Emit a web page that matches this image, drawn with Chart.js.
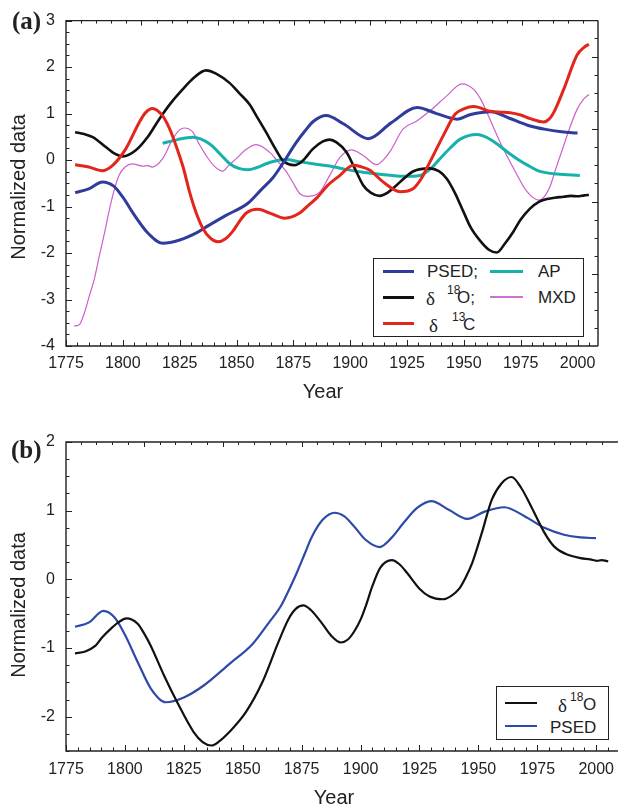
<!DOCTYPE html>
<html>
<head>
<meta charset="utf-8">
<script src="https://cdn.jsdelivr.net/npm/chart.js@4.4.1/dist/chart.umd.min.js"></script>
<style>
html,body{margin:0;padding:0;background:#fff;overflow:hidden;}
body{width:623px;height:809px;position:relative;font-family:"Liberation Sans",Arial,sans-serif;color:#222;}
canvas{position:absolute;left:0;}
#chartA{top:0;}
#chartB{top:400px;}
.panel{position:absolute;font-family:"Liberation Serif","Times New Roman",serif;font-weight:bold;font-size:25px;line-height:1;}
.ytitle{position:absolute;font-size:20px;line-height:1;white-space:nowrap;transform:translate(-50%,-50%) rotate(-90deg);}
.xtitle{position:absolute;font-size:20px;line-height:1;white-space:nowrap;transform:translate(-50%,-50%);}
.legend{position:absolute;box-sizing:border-box;border:1px solid #222;background:#fff;font-size:17px;}
.legend .ln{position:absolute;height:0;}
.legend .tx{position:absolute;line-height:1;white-space:nowrap;transform:translateY(-50%);}
.legend .sup{position:absolute;line-height:1;font-size:12px;transform:translateY(-50%);}
.delta{font-family:"Liberation Serif","DejaVu Serif",serif;font-size:19px;}
</style>
</head>
<body>
<canvas id="chartA" width="623" height="400"></canvas>
<canvas id="chartB" width="623" height="409"></canvas>

<div class="panel" style="left:12px;top:8px;">(a)</div>
<div class="panel" style="left:11px;top:437px;">(b)</div>
<div class="ytitle" style="left:18px;top:187px;">Normalized data</div>
<div class="ytitle" style="left:18px;top:605px;">Normalized data</div>
<div class="xtitle" style="left:323px;top:391px;">Year</div>
<div class="xtitle" style="left:334px;top:797px;">Year</div>

<div class="legend" style="left:373px;top:258px;width:211px;height:79px;">
  <div class="ln" style="left:9px;width:31px;top:11px;border-top:3px solid #2f3c9c;"></div>
  <span class="tx" style="left:53px;top:12px;">PSED;</span>
  <div class="ln" style="left:116px;width:33px;top:11px;border-top:3px solid #17b1ab;"></div>
  <span class="tx" style="left:164px;top:12px;">AP</span>

  <div class="ln" style="left:9px;width:31px;top:37px;border-top:3px solid #111;"></div>
  <span class="tx delta" style="left:52px;top:39px;">δ</span>
  <span class="sup" style="left:73px;top:31px;">18</span>
  <span class="tx" style="left:83px;top:38px;">O;</span>
  <div class="ln" style="left:116px;width:33px;top:37px;border-top:2px solid #d070d0;"></div>
  <span class="tx" style="left:164px;top:38px;">MXD</span>

  <div class="ln" style="left:9px;width:31px;top:63px;border-top:3px solid #e2261c;"></div>
  <span class="tx delta" style="left:55px;top:66px;">δ</span>
  <span class="sup" style="left:78px;top:58px;">13</span>
  <span class="tx" style="left:89px;top:65px;">C</span>
</div>

<div class="legend" style="left:496px;top:686px;width:113px;height:54px;">
  <div class="ln" style="left:8px;width:32px;top:15px;border-top:2px solid #111;"></div>
  <span class="tx delta" style="left:61px;top:18px;">δ</span>
  <span class="sup" style="left:73px;top:10px;">18</span>
  <span class="tx" style="left:86px;top:17px;">O</span>
  <div class="ln" style="left:8px;width:32px;top:38px;border-top:2px solid #2e4aa8;"></div>
  <span class="tx" style="left:53px;top:40px;">PSED</span>
</div>

<script>
// ---- panel (a) ----
const psedYearsA = [1779, 1785, 1791, 1796, 1800, 1805, 1811, 1817.5, 1825, 1833, 1838, 1845, 1855, 1861, 1866, 1870, 1876, 1880, 1884, 1889.5, 1897, 1908, 1918, 1929.5, 1938, 1947, 1953, 1962, 1970, 1978, 1986, 1993, 2000];
const psedValsA  = [-0.70, -0.62, -0.47, -0.56, -0.80, -1.18, -1.57, -1.79, -1.72, -1.55, -1.40, -1.20, -0.93, -0.63, -0.38, -0.10, 0.36, 0.62, 0.84, 0.96, 0.78, 0.46, 0.80, 1.13, 1.00, 0.88, 0.98, 1.04, 0.90, 0.75, 0.66, 0.61, 0.58];

const o18YearsA = [1779, 1783, 1787, 1792.5, 1796, 1800, 1805.7, 1811, 1816, 1821, 1826.3, 1831, 1836.6, 1841, 1846.9, 1851, 1855.7, 1859, 1863, 1867, 1870.4, 1875.5, 1879, 1883.6, 1888, 1891, 1894, 1898.4, 1902, 1905.7, 1909, 1913, 1916.5, 1920.4, 1924, 1927.8, 1935, 1939, 1942.5, 1946, 1949.8, 1953, 1957.2, 1961, 1964.5, 1968, 1971.9, 1975, 1979.2, 1983, 1986.6, 1990, 1993.9, 1997, 2000, 2003, 2005];
const o18ValsA  = [0.60, 0.56, 0.49, 0.28, 0.15, 0.08, 0.21, 0.50, 0.88, 1.22, 1.52, 1.76, 1.93, 1.86, 1.66, 1.45, 1.20, 0.93, 0.60, 0.25, -0.01, -0.11, -0.02, 0.24, 0.40, 0.44, 0.38, 0.17, -0.18, -0.54, -0.70, -0.77, -0.70, -0.54, -0.38, -0.24, -0.18, -0.24, -0.40, -0.70, -1.11, -1.45, -1.74, -1.93, -1.99, -1.80, -1.53, -1.28, -1.04, -0.90, -0.84, -0.81, -0.79, -0.77, -0.78, -0.76, -0.75];

const c13YearsA = [1779, 1785, 1790.9, 1795.4, 1801.3, 1807.2, 1810, 1813, 1817.5, 1820.5, 1823.4, 1826.5, 1829.3, 1832, 1835.1, 1838.5, 1841.8, 1845, 1848.4, 1851, 1854.3, 1859.4, 1864.6, 1871.2, 1877.8, 1881, 1885.2, 1890, 1895.5, 1901.3, 1904.5, 1908.7, 1914.5, 1921.9, 1927.8, 1931.5, 1935.1, 1941, 1946.2, 1950, 1954.3, 1961.6, 1966, 1970.4, 1975, 1979.2, 1985.1, 1987.5, 1989.5, 1993.9, 1999.8, 2003, 2005];
const c13ValsA  = [-0.10, -0.15, -0.23, -0.12, 0.24, 0.81, 1.02, 1.11, 0.95, 0.68, 0.31, -0.15, -0.68, -1.10, -1.46, -1.68, -1.76, -1.70, -1.53, -1.34, -1.14, -1.06, -1.14, -1.25, -1.14, -1.00, -0.82, -0.55, -0.33, -0.11, -0.14, -0.22, -0.47, -0.68, -0.61, -0.38, -0.04, 0.53, 0.99, 1.10, 1.15, 1.05, 1.03, 1.02, 0.97, 0.89, 0.82, 0.88, 1.02, 1.52, 2.26, 2.43, 2.49];

const apYearsA = [1817.5, 1824, 1830.8, 1838.1, 1843, 1847, 1851, 1855, 1859, 1863, 1867, 1871.9, 1877, 1883.6, 1891, 1898, 1905.7, 1914, 1923.3, 1930.7, 1935, 1939.5, 1944, 1948.4, 1955.8, 1960, 1964.5, 1969, 1973.3, 1978, 1982.2, 1986, 1991, 2001];
const apValsA  = [0.36, 0.44, 0.49, 0.35, 0.12, -0.08, -0.18, -0.21, -0.16, -0.08, -0.02, 0.01, -0.03, -0.08, -0.13, -0.20, -0.26, -0.31, -0.35, -0.33, -0.20, 0.03, 0.26, 0.45, 0.55, 0.49, 0.35, 0.18, 0.03, -0.11, -0.22, -0.27, -0.30, -0.33];

const mxdYearsA = [1778.5, 1780.7, 1783, 1785.1, 1787.5, 1789.5, 1791.8, 1793.9, 1796, 1798.3, 1801, 1804.2, 1808.6, 1811, 1813, 1817.5, 1821.9, 1825, 1827, 1830.8, 1833.5, 1836.6, 1840, 1844, 1846.5, 1849.9, 1854, 1858.7, 1864.5, 1868, 1871.9, 1875, 1877.8, 1880.7, 1883.5, 1886.6, 1891, 1895.4, 1900.6, 1905.7, 1911.6, 1914.5, 1917.5, 1923.3, 1929.3, 1935.1, 1942.5, 1949.1, 1954.3, 1957.5, 1960.2, 1966, 1971.9, 1977.8, 1982.9, 1985.5, 1988.1, 1990.5, 1993.9, 1997, 1999.8, 2002.5, 2005];
const mxdValsA  = [-3.57, -3.55, -3.30, -2.95, -2.55, -2.10, -1.60, -1.11, -0.68, -0.33, -0.15, -0.08, -0.13, -0.12, -0.15, 0.03, 0.45, 0.65, 0.69, 0.60, 0.35, 0.10, -0.12, -0.24, -0.12, 0.03, 0.22, 0.33, 0.17, -0.02, -0.25, -0.50, -0.72, -0.78, -0.77, -0.69, -0.33, 0.05, 0.22, 0.10, -0.10, 0.00, 0.18, 0.67, 0.84, 1.06, 1.38, 1.64, 1.52, 1.30, 1.02, 0.38, -0.18, -0.68, -0.86, -0.78, -0.54, -0.18, 0.31, 0.75, 1.09, 1.30, 1.41];

// ---- panel (b) ----
const o18YearsB = [1778.8, 1783.2, 1787.4, 1790.2, 1794.3, 1797.5, 1800.6, 1805.5, 1808, 1811, 1816.6, 1822.2, 1829.1, 1833, 1836.8, 1840, 1844.4, 1851.4, 1858.3, 1865.3, 1869.4, 1872.5, 1875.7, 1879, 1883.4, 1887.5, 1891.7, 1894.5, 1897.3, 1900.1, 1902.2, 1905, 1908.4, 1913.3, 1916.5, 1919.6, 1925.1, 1929.3, 1934.9, 1938.5, 1941.8, 1944.5, 1947.4, 1951.5, 1955.7, 1959.9, 1964.1, 1968.2, 1972.4, 1978, 1982.1, 1987.7, 1993.3, 1997.5, 2000.3, 2002.3, 2005.1];
const o18ValsB  = [-1.08, -1.05, -0.97, -0.85, -0.71, -0.62, -0.57, -0.65, -0.78, -0.97, -1.40, -1.79, -2.22, -2.37, -2.42, -2.36, -2.22, -1.93, -1.50, -0.90, -0.58, -0.43, -0.38, -0.45, -0.63, -0.82, -0.92, -0.88, -0.76, -0.58, -0.39, -0.10, 0.17, 0.28, 0.22, 0.10, -0.14, -0.25, -0.29, -0.24, -0.14, 0.02, 0.24, 0.68, 1.16, 1.40, 1.49, 1.33, 1.06, 0.68, 0.48, 0.36, 0.31, 0.29, 0.27, 0.28, 0.26];

const psedYearsB = [1778.8, 1784.6, 1790.9, 1795.7, 1799.9, 1805.5, 1811, 1817.3, 1825, 1833.3, 1844.4, 1854.2, 1861.1, 1866, 1869.4, 1873, 1876.4, 1879.2, 1884, 1889, 1893, 1897.3, 1902, 1908.1, 1913, 1918.2, 1924, 1930, 1937.6, 1945.3, 1952.9, 1961, 1969.6, 1978, 1986.3, 1993.3, 1999.9];
const psedValsB  = [-0.69, -0.63, -0.46, -0.56, -0.80, -1.21, -1.59, -1.79, -1.72, -1.55, -1.23, -0.94, -0.63, -0.40, -0.17, 0.10, 0.38, 0.61, 0.87, 0.97, 0.92, 0.77, 0.58, 0.47, 0.60, 0.82, 1.04, 1.14, 1.01, 0.88, 0.99, 1.05, 0.92, 0.75, 0.65, 0.61, 0.60];

const xTickStep = 25;
const yTickStep = 1;

function pts(xs, ys){ return xs.map((x, i) => ({ x, y: ys[i] })); }

// frame + inward ticks, drawn through the chart's own scales
const frameTicks = {
  id: 'frameTicks',
  afterDraw(chart, args, o){
    const { ctx, chartArea: a, scales: { x, y } } = chart;
    ctx.save();
    ctx.strokeStyle = '#222';
    ctx.lineWidth = 1.4;
    ctx.beginPath();
    ctx.moveTo(a.right + (o.right ? 0 : 5), a.top); ctx.lineTo(a.left, a.top);
    ctx.lineTo(a.left, a.bottom); ctx.lineTo(a.right + (o.right ? 0 : 5), a.bottom);
    if (o.right) { ctx.moveTo(a.right, a.top); ctx.lineTo(a.right, a.bottom); }
    ctx.stroke();

    ctx.lineWidth = 1;
    ctx.beginPath();
    const seg = (x1, y1, x2, y2) => { ctx.moveTo(x1, y1); ctx.lineTo(x2, y2); };
    // left
    let n = Math.round((y.max - y.min) / o.yMinor);
    for (let i = 0; i <= n; i++) {
      const v = y.min + i * o.yMinor, py = Math.round(y.getPixelForValue(v)) + 0.5;
      const len = Math.abs(v - Math.round(v)) < 1e-6 ? 6 : 3.5;
      seg(a.left, py, a.left + len, py);
    }
    // bottom
    n = Math.floor((x.max - x.min) / 5);
    for (let i = 0; i <= n; i++) {
      const v = x.min + i * 5, px = Math.round(x.getPixelForValue(v)) + 0.5;
      const len = (v - x.min) % 25 === 0 ? 6 : 3.5;
      seg(px, a.bottom, px, a.bottom - len);
    }
    // top
    for (let k = 0; ; k++) {
      const v = o.topStart + k * o.topStep;
      if (v > x.max) break;
      if (v <= x.min) continue;
      const px = Math.round(x.getPixelForValue(v)) + 0.5;
      seg(px, a.top, px, a.top + (k % 5 === 0 ? 5 : 3));
    }
    // right
    if (o.right) {
      for (let k = 0; ; k++) {
        const v = o.rightStart - k * o.rightStep;
        if (v < y.min) break;
        const py = Math.round(y.getPixelForValue(v)) + 0.5;
        seg(a.right, py, a.right - (k % 4 === 1 ? 6 : 3.5), py);
      }
    }
    ctx.stroke();
    ctx.restore();
  }
};

function axes(xmin, xmax, ymin, ymax, xHeight, xPad){
  const font = { family: '"Liberation Sans", Arial, sans-serif', size: 16 };
  return {
    x: {
      type: 'linear', min: xmin, max: xmax,
      grid: { display: false, drawTicks: false }, border: { display: false },
      ticks: { stepSize: xTickStep, includeBounds: false, autoSkip: false, maxRotation: 0,
               padding: xPad, font, color: '#222', callback: v => String(v) },
      afterFit(s){ s.height = xHeight; }
    },
    y: {
      type: 'linear', min: ymin, max: ymax,
      grid: { display: false, drawTicks: false }, border: { display: false },
      ticks: { stepSize: yTickStep, includeBounds: false, autoSkip: false, padding: 11, font, color: '#222',
               callback: v => Number.isInteger(v) ? String(v) : '' },
      afterFit(s){ s.width = 66; }
    }
  };
}

const line = (data, color, width) => ({
  data, borderColor: color, borderWidth: width, pointRadius: 0, fill: false,
  cubicInterpolationMode: 'monotone', tension: 0.4
});

new Chart(document.getElementById('chartA'), {
  type: 'line',
  data: {
    datasets: [
      line(pts(c13YearsA, c13ValsA), '#e2261c', 3),
      line(pts(psedYearsA, psedValsA), '#2f3c9c', 3),
      line(pts(o18YearsA, o18ValsA), '#111111', 2.6),
      line(pts(apYearsA, apValsA), '#17b1ab', 3),
      line(pts(mxdYearsA, mxdValsA), '#cc5fcc', 1.2)
    ]
  },
  options: {
    responsive: false, devicePixelRatio: 1, animation: false,
    layout: { padding: { top: 17, right: 25, left: 0, bottom: 0 } },
    plugins: { legend: { display: false }, tooltip: { enabled: false },
      frameTicks: { right: true, yMinor: 0.25, topStart: 1774.7, topStep: 6.7, rightStart: 2.617, rightStep: 0.39 } },
    scales: axes(1775, 2009, -4, 3, 54, 8)
  },
  plugins: [frameTicks]
});

new Chart(document.getElementById('chartB'), {
  type: 'line',
  data: {
    datasets: [
      line(pts(o18YearsB, o18ValsB), '#111111', 2.2),
      line(pts(psedYearsB, psedValsB), '#2e4aa8', 2.2)
    ]
  },
  options: {
    responsive: false, devicePixelRatio: 1, animation: false,
    layout: { padding: { top: 42, right: 0, left: 0, bottom: 0 } },
    plugins: { legend: { display: false }, tooltip: { enabled: false },
      frameTicks: { right: false, yMinor: 0.25, topStart: 1774.5, topStep: 6.7 } },
    scales: axes(1775, 2007.1, -2.5, 2, 58, 9)
  },
  plugins: [frameTicks]
});
</script>
</body>
</html>
